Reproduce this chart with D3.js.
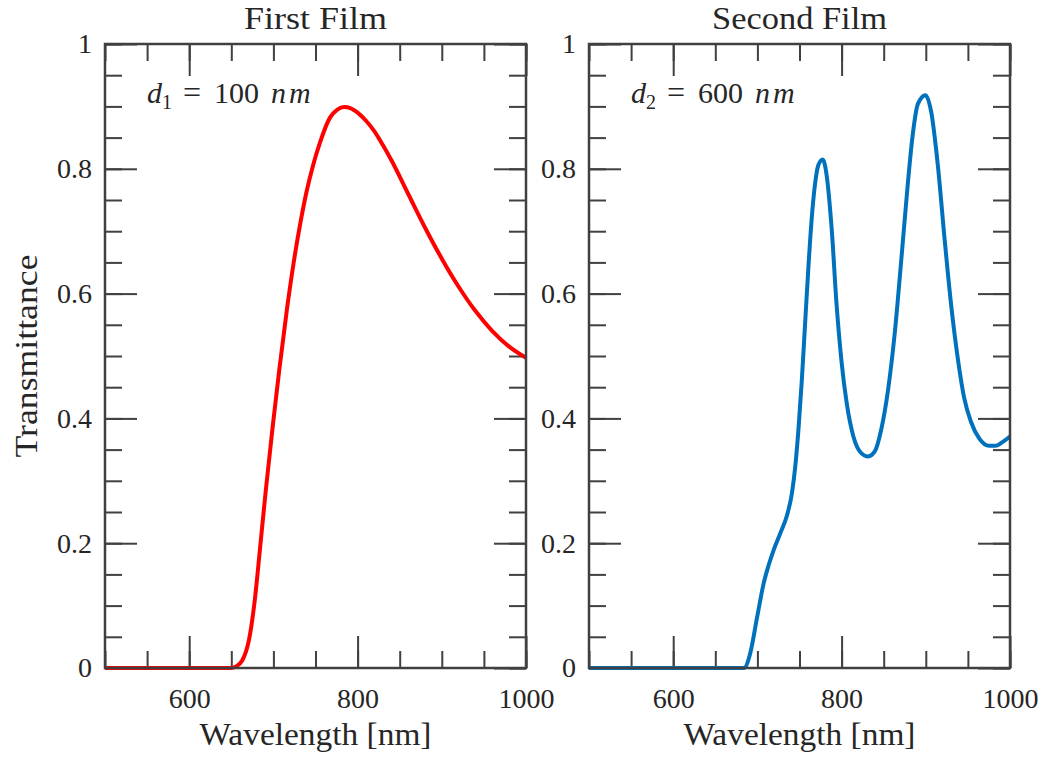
<!DOCTYPE html>
<html><head><meta charset="utf-8">
<script src="https://cdn.jsdelivr.net/npm/d3@7"></script>
<style>
body{margin:0;background:#fff}
text{font-family:"Liberation Serif","Times New Roman",serif;fill:#262626}
</style>
</head><body>
<svg id="chart" width="1045" height="758"></svg>
<script>
// ---- data ----
const panelTitles = ["First Film", "Second Film"];
const thicknessLabels = [["d", "1", "100"], ["d", "2", "600"]];
const lineColors = ["#ff0000", "#0072bd"];

const wavelength1 = [500, 600, 650, 655, 663, 671, 678, 684, 691, 699, 707, 716, 724, 732, 739.5, 747.4, 755.3, 767.2, 776, 784, 792, 800, 810, 820, 830, 840, 860, 880, 900, 920, 940, 960, 980, 1000];
const transmittance1 = [0, 0, 0, 0.002, 0.012, 0.045, 0.11, 0.19, 0.285, 0.385, 0.478, 0.574, 0.649, 0.713, 0.764, 0.807, 0.842, 0.882, 0.895, 0.899, 0.897, 0.890, 0.877, 0.860, 0.838, 0.814, 0.760, 0.706, 0.656, 0.611, 0.572, 0.540, 0.515, 0.497];

const wavelength2 = [500, 650, 684, 691.7, 699.6, 707.5, 713.4, 719.3, 727.2, 735, 741, 744.9, 748.8, 752.8, 756.7, 760.6, 764.6, 768.5, 772.4, 777.6, 782.3, 788.2, 794, 800, 806, 814, 823.6, 831.5, 839.4, 847.2, 855, 863, 871, 878.7, 884.6, 890.6, 899.6, 906.3, 914.2, 922, 930, 937.8, 945.7, 953.5, 963.4, 975.2, 983.1, 991, 1000];
const transmittance2 = [0, 0, 0, 0.025, 0.081, 0.136, 0.165, 0.189, 0.216, 0.244, 0.28, 0.322, 0.383, 0.462, 0.553, 0.643, 0.722, 0.776, 0.806, 0.815, 0.789, 0.704, 0.583, 0.49, 0.425, 0.371, 0.344, 0.339, 0.347, 0.383, 0.444, 0.535, 0.656, 0.777, 0.856, 0.904, 0.918, 0.892, 0.807, 0.692, 0.583, 0.498, 0.432, 0.395, 0.368, 0.356, 0.356, 0.362, 0.371];

const xMajorTicks = [600, 800, 1000];
const xMinorTicks = [500, 550, 600, 650, 700, 750, 800, 850, 900, 950, 1000];
const yMajorTicks = [0, 0.2, 0.4, 0.6, 0.8, 1];
const yMinorTicks = d3.range(0, 1.0001, 0.05);
const xLabel = "Wavelength [nm]";
const yLabel = "Transmittance";

// ---- layout ----
const svg = d3.select("#chart");
const plotTop = 44, plotBottom = 668;
const panels = [
  {x0: 105, x1: 526, wl: wavelength1, tr: transmittance1, titleW: 143},
  {x0: 589, x1: 1010, wl: wavelength2, tr: transmittance2, titleW: 175}
];
const axisColor = "#404040";
const majorLen = 32, minorLen = 17;

panels.forEach((p, i) => {
  const x = d3.scaleLinear().domain([500, 1000]).range([p.x0, p.x1]);
  const y = d3.scaleLinear().domain([0, 1]).range([plotBottom, plotTop]);
  const g = svg.append("g");

  const styleAxis = sel => {
    sel.select(".domain").remove();
    sel.selectAll(".tick line").attr("stroke", axisColor).attr("stroke-width", 2);
    sel.selectAll(".tick text").attr("fill", "#262626");
  };

  // minor ticks
  g.append("g").attr("transform", `translate(0,${plotBottom})`)
    .call(d3.axisBottom(x).tickValues(xMinorTicks).tickSizeInner(-minorLen).tickSizeOuter(0).tickFormat(""))
    .call(styleAxis);
  g.append("g").attr("transform", `translate(0,${plotTop})`)
    .call(d3.axisTop(x).tickValues(xMinorTicks).tickSizeInner(-minorLen).tickSizeOuter(0).tickFormat(""))
    .call(styleAxis);
  g.append("g").attr("transform", `translate(${p.x0},0)`)
    .call(d3.axisLeft(y).tickValues(yMinorTicks).tickSizeInner(-minorLen).tickSizeOuter(0).tickFormat(""))
    .call(styleAxis);
  g.append("g").attr("transform", `translate(${p.x1},0)`)
    .call(d3.axisRight(y).tickValues(yMinorTicks).tickSizeInner(-minorLen).tickSizeOuter(0).tickFormat(""))
    .call(styleAxis);

  // major ticks with labels
  const xb = g.append("g").attr("transform", `translate(0,${plotBottom})`)
    .call(d3.axisBottom(x).tickValues(xMajorTicks).tickSizeInner(-majorLen).tickSizeOuter(0).tickPadding(20).tickFormat(d3.format("d")))
    .call(styleAxis);
  xb.selectAll(".tick text").attr("font-size", 28);
  g.append("g").attr("transform", `translate(0,${plotTop})`)
    .call(d3.axisTop(x).tickValues(xMajorTicks).tickSizeInner(-majorLen).tickSizeOuter(0).tickFormat(""))
    .call(styleAxis);
  const yl = g.append("g").attr("transform", `translate(${p.x0},0)`)
    .call(d3.axisLeft(y).tickValues(yMajorTicks).tickSizeInner(-majorLen).tickSizeOuter(0).tickPadding(13).tickFormat(d => String(d)))
    .call(styleAxis);
  yl.selectAll(".tick text").attr("font-size", 28);
  g.append("g").attr("transform", `translate(${p.x1},0)`)
    .call(d3.axisRight(y).tickValues(yMajorTicks).tickSizeInner(-majorLen).tickSizeOuter(0).tickFormat(""))
    .call(styleAxis);

  // data line
  const clipId = "clip" + i;
  svg.append("clipPath").attr("id", clipId).append("rect")
    .attr("x", p.x0).attr("y", plotTop - 5).attr("width", p.x1 - p.x0).attr("height", plotBottom - plotTop + 10);
  const pts = p.wl.map((w, k) => [w, p.tr[k]]);
  g.append("path").datum(pts)
    .attr("clip-path", `url(#${clipId})`)
    .attr("fill", "none").attr("stroke", lineColors[i]).attr("stroke-width", 4)
    .attr("stroke-linejoin", "round")
    .attr("d", d3.line().x(d => x(d[0])).y(d => y(d[1])).curve(d3.curveMonotoneX));

  // frame
  g.append("rect").attr("x", p.x0).attr("y", plotTop).attr("width", p.x1 - p.x0).attr("height", plotBottom - plotTop)
    .attr("fill", "none").attr("stroke", axisColor).attr("stroke-width", 2.5);

  // title
  g.append("text").attr("x", (p.x0 + p.x1) / 2).attr("y", 29).attr("text-anchor", "middle")
    .attr("font-size", 31).attr("textLength", p.titleW).attr("lengthAdjust", "spacingAndGlyphs")
    .text(panelTitles[i]);

  // x label
  g.append("text").attr("x", (p.x0 + p.x1) / 2).attr("y", 745).attr("text-anchor", "middle")
    .attr("font-size", 31).attr("textLength", 232).attr("lengthAdjust", "spacingAndGlyphs")
    .text(xLabel);

  // annotation
  const [sym, sub, val] = thicknessLabels[i];
  const t = g.append("text").attr("x", p.x0 + 42).attr("y", 103).attr("font-size", 30);
  t.append("tspan").attr("font-style", "italic").text(sym);
  t.append("tspan").attr("font-size", 20).attr("dy", 6).text(sub);
  t.append("tspan").attr("dy", -6).attr("dx", 11).attr("font-size", 32).text("=");
  t.append("tspan").attr("dx", 13).text(val);
  t.append("tspan").attr("dx", 12).attr("font-style", "italic").attr("letter-spacing", 3).text("nm");
});

// y label
svg.append("text").attr("transform", "translate(37,356) rotate(-90)").attr("text-anchor", "middle")
  .attr("font-size", 31).attr("textLength", 203).attr("lengthAdjust", "spacingAndGlyphs")
  .text(yLabel);
</script>
</body></html>
